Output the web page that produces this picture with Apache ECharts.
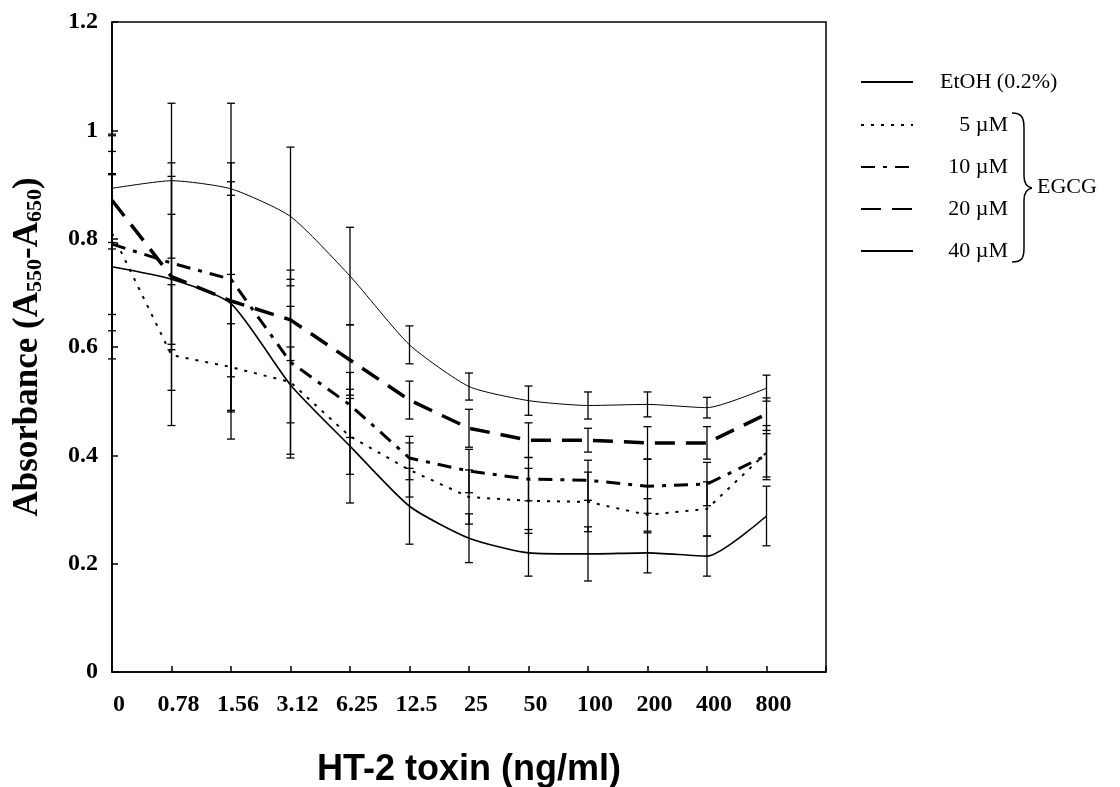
<!DOCTYPE html>
<html>
<head>
<meta charset="utf-8">
<title>HT-2 toxin absorbance</title>
<script src="https://cdn.jsdelivr.net/npm/echarts@6/dist/echarts.min.js"></script>
<style>
  html, body { margin: 0; padding: 0; background: #fff; }
  #main { width: 1120px; height: 787px; }
</style>
</head>
<body>
<div id="main"></div>
<script>
// x categories (HT-2 toxin, ng/ml) and y tick labels
var xLabels = ['0', '0.78', '1.56', '3.12', '6.25', '12.5', '25', '50', '100', '200', '400', '800'];
var yTickLabels = ['0', '0.2', '0.4', '0.6', '0.8', '1', '1.2'];

// means
var etoh = [0.893, 0.907, 0.892, 0.841, 0.731, 0.604, 0.527, 0.501, 0.492, 0.494, 0.488, 0.524];
var egcg5 = [0.81, 0.585, 0.563, 0.535, 0.435, 0.373, 0.323, 0.316, 0.314, 0.29, 0.301, 0.405];
var egcg10 = [0.79, 0.755, 0.725, 0.572, 0.493, 0.395, 0.371, 0.356, 0.354, 0.343, 0.347, 0.40];
var egcg20 = [0.871, 0.73, 0.685, 0.65, 0.576, 0.502, 0.45, 0.428, 0.428, 0.423, 0.423, 0.476];
var egcg40 = [0.748, 0.725, 0.68, 0.53, 0.417, 0.306, 0.247, 0.22, 0.218, 0.22, 0.214, 0.288];

// error bar half widths (SD)
var etohErr = [0.10, 0.143, 0.158, 0.128, 0.09, 0.035, 0.025, 0.027, 0.025, 0.023, 0.019, 0.024];
var egcg5Err = [0.18, 0.13, 0.08, 0.14, 0.07, 0.05, 0.05, 0.06, 0.055, 0.03, 0.05, 0.05];
var egcg10Err = [0.13, 0.16, 0.18, 0.17, 0.06, 0.04, 0.04, 0.04, 0.037, 0.05, 0.04, 0.04];
var egcg20Err = [0.09, 0.21, 0.255, 0.075, 0.065, 0.035, 0.035, 0.032, 0.022, 0.03, 0.03, 0.03];
var egcg40Err = [0.17, 0.12, 0.2, 0.07, 0.105, 0.07, 0.045, 0.043, 0.05, 0.037, 0.037, 0.055];

var serif = 'Liberation Serif';

function pts(arr) {
  return arr.map(function (v, i) { return [i, v]; });
}

// rows of [x, low, high] for the whiskers
var errRows = [];
[[etoh, etohErr], [egcg5, egcg5Err], [egcg10, egcg10Err], [egcg20, egcg20Err], [egcg40, egcg40Err]].forEach(function (p) {
  p[0].forEach(function (v, i) {
    errRows.push([i, v - p[1][i], v + p[1][i]]);
  });
});

var myChart = echarts.init(document.getElementById('main'));

var braceStyle = { fill: 'none', stroke: '#000', lineWidth: 1.5 };

var option = {
  backgroundColor: '#fff',
  animation: false,
  grid: {
    left: 112, top: 22, right: 294, bottom: 115,
    outerBoundsMode: 'none',
    show: true, borderColor: '#000', borderWidth: 1.5, backgroundColor: 'transparent'
  },
  legend: [
    {
      left: 860, top: 71, padding: 0,
      orient: 'vertical',
      itemWidth: 52, itemHeight: 14,
      itemStyle: { opacity: 0 },
      data: ['EtOH (0.2%)'],
      textStyle: { fontFamily: serif, fontSize: 22, color: '#000', padding: [0, 0, 0, 22] }
    },
    {
      left: 860, top: 114, padding: 0,
      orient: 'vertical',
      itemWidth: 52, itemHeight: 14, itemGap: 20,
      itemStyle: { opacity: 0 },
      data: ['5 µM', '10 µM', '20 µM', '40 µM'],
      formatter: '{a|{name}}',
      textStyle: {
        fontFamily: serif, fontSize: 22, color: '#000',
        rich: { a: { fontFamily: serif, fontSize: 22, width: 90, align: 'right' } }
      }
    }
  ],
  graphic: [
    // brace grouping the EGCG entries
    { type: 'bezierCurve', shape: { x1: 1012, y1: 113, cpx1: 1022, cpy1: 113, cpx2: 1024, cpy2: 118, x2: 1024, y2: 128 }, style: braceStyle },
    { type: 'line', shape: { x1: 1024, y1: 128, x2: 1024, y2: 176 }, style: braceStyle },
    { type: 'bezierCurve', shape: { x1: 1024, y1: 176, cpx1: 1024, cpy1: 183, cpx2: 1027, cpy2: 187, x2: 1032, y2: 188 }, style: braceStyle },
    { type: 'bezierCurve', shape: { x1: 1032, y1: 188, cpx1: 1027, cpy1: 189, cpx2: 1024, cpy2: 193, x2: 1024, y2: 200 }, style: braceStyle },
    { type: 'line', shape: { x1: 1024, y1: 200, x2: 1024, y2: 248 }, style: braceStyle },
    { type: 'bezierCurve', shape: { x1: 1024, y1: 248, cpx1: 1024, cpy1: 258, cpx2: 1022, cpy2: 262, x2: 1012, y2: 262 }, style: braceStyle },
    {
      type: 'text', left: 1037, top: 176,
      style: { text: 'EGCG', fontFamily: serif, fontSize: 22, fill: '#000' }
    }
  ],
  xAxis: {
    type: 'value',
    min: 0, max: 12, interval: 1,
    name: 'HT-2 toxin (ng/ml)',
    nameLocation: 'middle',
    nameGap: 80,
    nameTextStyle: { fontFamily: 'Liberation Sans', fontWeight: 'bold', fontSize: 36, color: '#000' },
    axisLine: { lineStyle: { color: '#000', width: 1.5 } },
    axisTick: { inside: true, length: 6, lineStyle: { color: '#000', width: 1.5 } },
    splitLine: { show: false },
    axisLabel: {
      margin: 21,
      padding: [0, 0, 0, 14],
      fontFamily: serif, fontWeight: 'bold', fontSize: 24, color: '#000',
      formatter: function (v) { return xLabels[v] !== undefined ? xLabels[v] : ''; }
    }
  },
  yAxis: {
    type: 'value',
    min: 0, max: 1.2, interval: 0.2,
    name: '{m|Absorbance (A}{s|550}{m|-A}{s|650}{m|)}',
    nameLocation: 'middle',
    nameGap: 64,
    nameRotate: 90,
    nameTextStyle: {
      color: '#000',
      rich: {
        m: { fontFamily: serif, fontWeight: 'bold', fontSize: 35, lineHeight: 40, color: '#000' },
        s: { fontFamily: serif, fontWeight: 'bold', fontSize: 22, lineHeight: 40, color: '#000', padding: [14, 0, 0, 0] }
      }
    },
    axisLine: { show: true, lineStyle: { color: '#000', width: 1.5 } },
    axisTick: { inside: true, length: 6, lineStyle: { color: '#000', width: 1.5 } },
    splitLine: { show: false },
    axisLabel: {
      margin: 14,
      fontFamily: serif, fontWeight: 'bold', fontSize: 24, color: '#000',
      formatter: function (v) { return yTickLabels[Math.round(v / 0.2)]; }
    }
  },
  series: [
    {
      name: 'EtOH (0.2%)', type: 'line', data: pts(etoh), symbol: 'none', smooth: 0.2,
      lineStyle: { color: '#000', width: 1 }, itemStyle: { color: '#000' }
    },
    {
      name: '5 µM', type: 'line', data: pts(egcg5), symbol: 'none',
      lineStyle: { color: '#000', width: 2, type: [3, 7] }, itemStyle: { color: '#000' }
    },
    {
      name: '10 µM', type: 'line', data: pts(egcg10), symbol: 'none',
      lineStyle: { color: '#000', width: 3, type: [14, 8, 4, 8] }, itemStyle: { color: '#000' }
    },
    {
      name: '20 µM', type: 'line', data: pts(egcg20), symbol: 'none',
      lineStyle: { color: '#000', width: 3.5, type: [20, 11] }, itemStyle: { color: '#000' }
    },
    {
      name: '40 µM', type: 'line', data: pts(egcg40), symbol: 'none', smooth: 0.2,
      lineStyle: { color: '#000', width: 1.6 }, itemStyle: { color: '#000' }
    },
    {
      type: 'custom',
      data: errRows,
      z: 3,
      renderItem: function (params, api) {
        var lo = api.coord([api.value(0), api.value(1)]);
        var hi = api.coord([api.value(0), api.value(2)]);
        var w = 4;
        var st = { stroke: '#000', lineWidth: 1.3 };
        return {
          type: 'group',
          children: [
            { type: 'line', shape: { x1: hi[0], y1: hi[1], x2: lo[0], y2: lo[1] }, style: st },
            { type: 'line', shape: { x1: hi[0] - w, y1: hi[1], x2: hi[0] + w, y2: hi[1] }, style: st },
            { type: 'line', shape: { x1: lo[0] - w, y1: lo[1], x2: lo[0] + w, y2: lo[1] }, style: st }
          ]
        };
      }
    }
  ]
};

myChart.setOption(option);
window.onresize = myChart.resize;
</script>
</body>
</html>
